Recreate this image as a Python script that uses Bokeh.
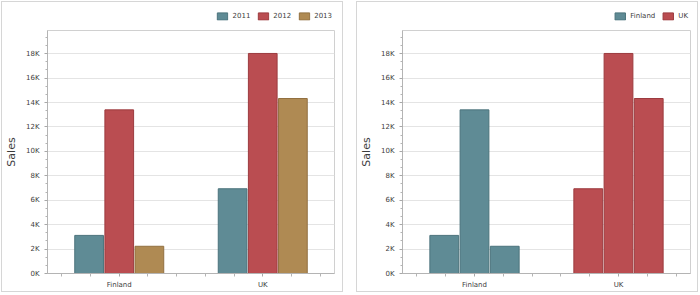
from bokeh.plotting import figure
from bokeh.models import ColumnDataSource, FixedTicker, Legend, LegendItem, Range1d
from bokeh.layouts import row, column
from bokeh.embed import file_html
from bokeh.resources import INLINE

# ---- data ----
countries = ["Finland", "UK"]
years = ["2011", "2012", "2013"]
sales_2011 = [3120, 6940]
sales_2012 = [13400, 18020]
sales_2013 = [2230, 14330]
sales_by_year = [sales_2011, sales_2012, sales_2013]
y_ticks = [0, 2000, 4000, 6000, 8000, 10000, 12000, 14000, 16000, 18000]
y_tick_labels = ["0K", "2K", "4K", "6K", "8K", "10K", "12K", "14K", "16K", "18K"]
y_max = 19900

# ---- styles ----
year_fill = ["#5f8b95", "#ba4d51", "#af8a53"]
year_line = ["#4b737c", "#9c3b3f", "#927040"]
country_fill = ["#5f8b95", "#ba4d51"]
country_line = ["#4b737c", "#9c3b3f"]
FONT = "DejaVu Sans"
TXT = "#404040"
BAR_W = 0.2
STEP = 0.21
W = 340
LEG_H = 27
MAIN_H = 262


def base_fig(min_left, min_right):
    p = figure(width=W, height=MAIN_H, output_backend="svg", toolbar_location=None,
               x_range=Range1d(0, len(countries)), y_range=Range1d(0, y_max),
               min_border_left=min_left, min_border_right=min_right,
               min_border_top=1, min_border_bottom=18)
    p.outline_line_color = "#d0d0d0"
    p.background_fill_color = "white"
    p.border_fill_color = "white"
    centers = [i + 0.5 for i in range(len(countries))]
    minors = [c + d for c in centers for d in (-0.4, -0.2, 0.2, 0.4)]
    p.xaxis.ticker = FixedTicker(ticks=centers, minor_ticks=minors)
    p.xaxis.major_label_overrides = {c: name for c, name in zip(centers, countries)}
    ystep = y_ticks[1] - y_ticks[0]
    yminor = [t + k * ystep / 3 for t in y_ticks for k in (1, 2) if t + k * ystep / 3 < y_max]
    p.yaxis.ticker = FixedTicker(ticks=y_ticks, minor_ticks=yminor)
    p.yaxis.major_label_overrides = {t: lab for t, lab in zip(y_ticks, y_tick_labels)}
    for ax in (p.xaxis[0], p.yaxis[0]):
        ax.axis_line_color = "#b4b4b4"
        ax.major_tick_line_color = "#a8a8a8"
        ax.minor_tick_line_color = "#b4b4b4"
        ax.major_tick_in = 0
        ax.minor_tick_in = 0
        ax.major_label_text_font = FONT
        ax.major_label_text_font_size = "7px"
        ax.major_label_text_color = TXT
    p.xaxis.major_tick_out = 3
    p.xaxis.minor_tick_out = 3
    p.xaxis.major_label_standoff = 4
    p.yaxis.major_tick_out = 3
    p.yaxis.minor_tick_out = 2
    p.yaxis.major_label_standoff = 5
    p.yaxis.axis_label = "Sales"
    p.yaxis.axis_label_text_font = FONT
    p.yaxis.axis_label_text_font_size = "11px"
    p.yaxis.axis_label_text_font_style = "normal"
    p.yaxis.axis_label_text_color = "#3c3c3c"
    p.yaxis.axis_label_standoff = 5
    p.xgrid.grid_line_color = None
    p.ygrid.grid_line_color = "#e4e4e4"
    return p


def legend_fig(labels, sources, fills, lines):
    # a strip above the chart that only holds the legend; the bars drawn here
    # lie below its y range, so only their legend keys are visible
    lf = figure(width=W, height=LEG_H, output_backend="svg", toolbar_location=None,
                x_range=Range1d(0, len(countries)), y_range=Range1d(2 * y_max, 3 * y_max),
                x_axis_type=None, y_axis_type=None, min_border=0)
    lf.outline_line_color = None
    lf.background_fill_color = "white"
    lf.border_fill_color = "white"
    items = []
    for lab, src, fc, lc in zip(labels, sources, fills, lines):
        r = lf.vbar(x="x", top="top", width=BAR_W, bottom=0, source=src,
                    fill_color=fc, line_color=lc, line_width=1)
        items.append(LegendItem(label=lab, renderers=[r]))
    lg = Legend(items=items, orientation="horizontal", location="right",
                padding=0, margin=2, spacing=6, label_standoff=4,
                glyph_width=13, glyph_height=9, label_height=9, label_width=0,
                border_line_color=None, background_fill_alpha=0)
    lg.label_text_font = FONT
    lg.label_text_font_size = "7px"
    lg.label_text_color = TXT
    lg.label_text_baseline = "middle"
    lf.add_layout(lg, "center")
    return lf


PANEL_STYLE = {"border": "1px solid #d6d6d6"}

# ---- left chart: series = years ----
p1 = base_fig(44, 8)
srcs1 = []
for yi, (yr, vals) in enumerate(zip(years, sales_by_year)):
    xs = [ci + 0.5 + (yi - 1) * STEP for ci in range(len(countries))]
    src = ColumnDataSource(dict(x=xs, top=vals))
    srcs1.append(src)
    p1.vbar(x="x", top="top", width=BAR_W, bottom=0, source=src,
            fill_color=year_fill[yi], line_color=year_line[yi], line_width=1)
panel1 = column(legend_fig(years, srcs1, year_fill, year_line), p1, spacing=0, styles=PANEL_STYLE)

# ---- right chart: series = countries ----
p2 = base_fig(45, 7)
srcs2 = []
for ci, name in enumerate(countries):
    xs = [ci + 0.5 + (yi - 1) * STEP for yi in range(len(years))]
    vals = [sales_by_year[yi][ci] for yi in range(len(years))]
    src = ColumnDataSource(dict(x=xs, top=vals))
    srcs2.append(src)
    p2.vbar(x="x", top="top", width=BAR_W, bottom=0, source=src,
            fill_color=country_fill[ci], line_color=country_line[ci], line_width=1)
panel2 = column(legend_fig(countries, srcs2, country_fill, country_line), p2, spacing=0, styles=PANEL_STYLE)

layout = row(panel1, panel2, spacing=13, styles={"margin-left": "1px", "margin-top": "1px"})
open("out.html", "w").write(file_html(layout, INLINE))
